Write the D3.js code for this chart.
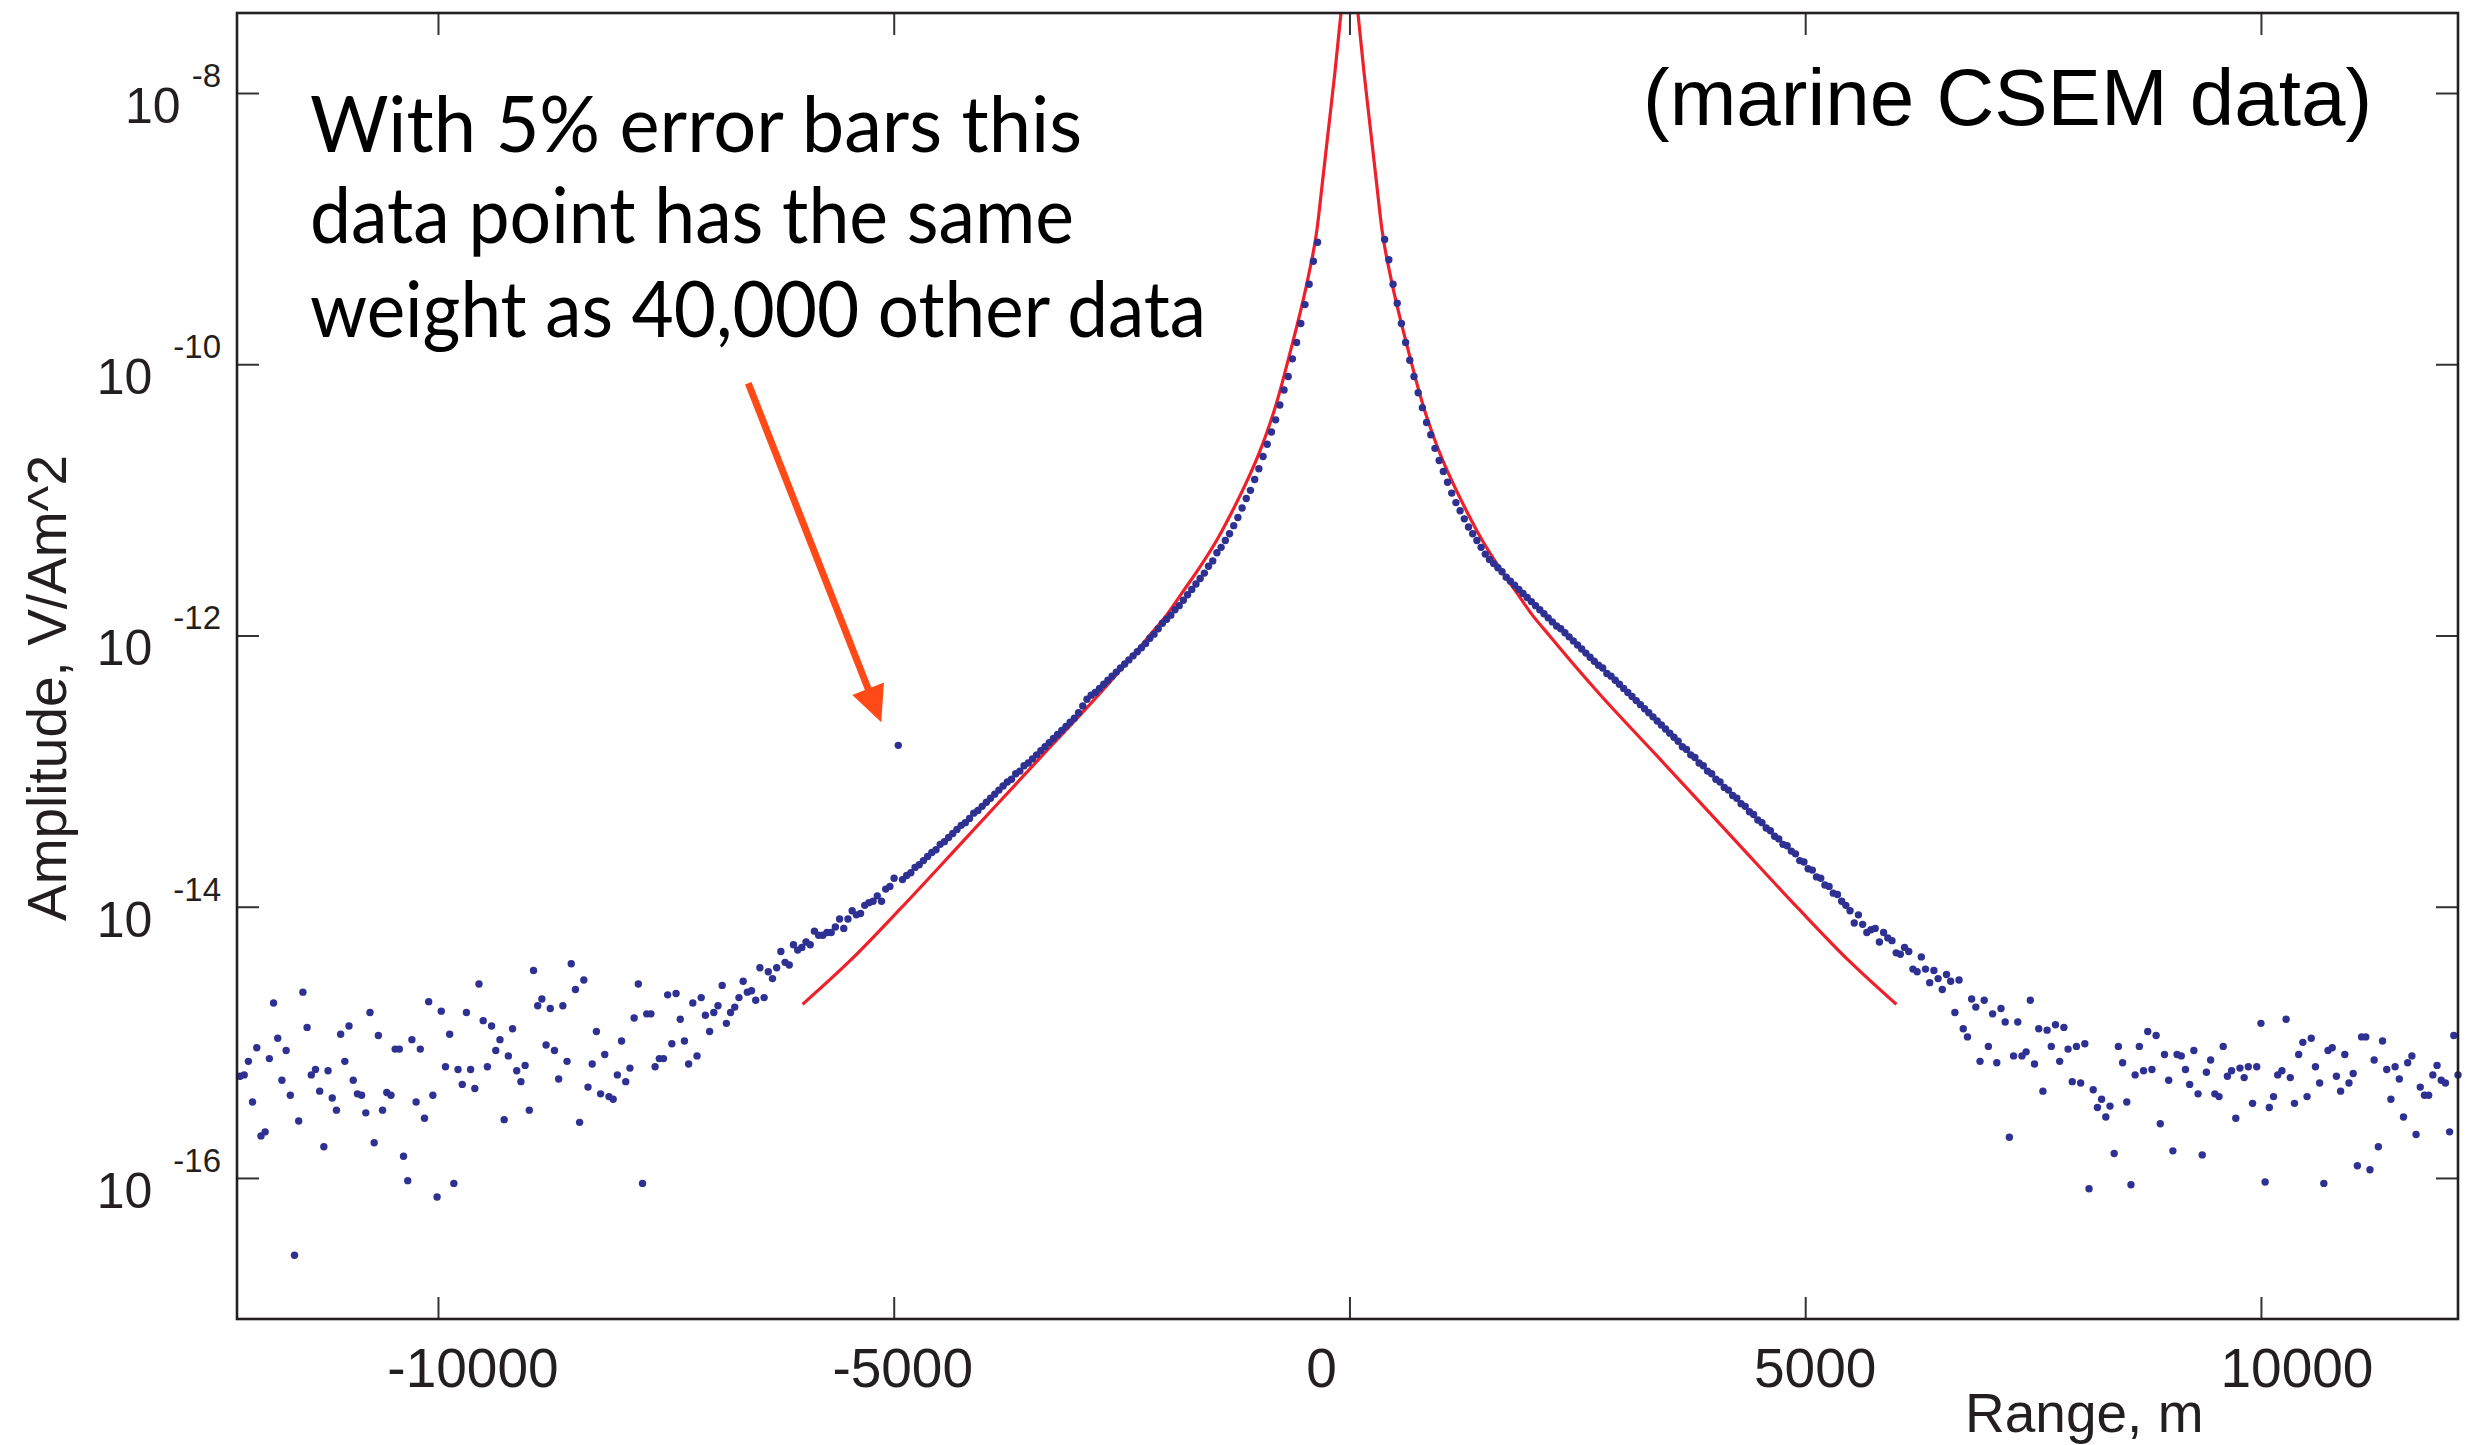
<!DOCTYPE html>
<html>
<head>
<meta charset="utf-8">
<script src="https://cdn.jsdelivr.net/npm/d3@7"></script>
<style>
  html, body { margin: 0; padding: 0; background: #ffffff; }
  svg { display: block; }
</style>
</head>
<body>
<svg id="chart" width="2476" height="1445"></svg>
<script>
// Inline receiver amplitudes on a regular 46 m range grid, stored as log10(V/Am^2).
const rangeStep = 46;
const westStartRange = -12172;   // first sample west of the source
const eastStartRange = 386;      // first sample east of the source

const westExponents = [
  -15.25,-15.24,-15.14,-15.44,-15.04,-15.69,-15.66,-15.12,-14.71,-14.97,
  -15.28,-15.06,-15.39,-16.57,-15.58,-14.63,-14.89,-15.24,-15.20,-15.36,
  -15.77,-15.21,-15.41,-15.50,-14.94,-15.14,-14.88,-15.28,-15.38,-15.39,
  -15.52,-14.78,-15.74,-14.95,-15.50,-15.37,-15.39,-15.05,-15.05,-15.84,
  -16.02,-14.98,-15.44,-15.05,-15.56,-14.70,-15.39,-16.14,-14.77,-15.18,
  -14.94,-16.04,-15.20,-15.31,-14.78,-15.20,-15.34,-14.57,-14.84,-15.18,
  -14.88,-15.06,-14.98,-15.57,-15.10,-14.90,-15.21,-15.29,-15.17,-15.50,
  -14.47,-14.73,-14.68,-15.02,-14.75,-15.06,-15.27,-14.73,-15.14,-14.42,
  -14.61,-15.59,-14.54,-15.33,-15.16,-14.92,-15.38,-15.09,-15.40,-15.42,
  -15.24,-14.99,-15.29,-15.19,-14.82,-14.57,-16.04,-14.79,-14.79,-15.18,
  -15.12,-15.12,-14.65,-15.01,-14.64,-14.83,-14.99,-15.16,-14.71,-15.10,
  -14.67,-14.80,-14.92,-14.78,-14.73,-14.58,-14.86,-14.78,-14.74,-14.67,
  -14.55,-14.63,-14.62,-14.69,-14.45,-14.67,-14.48,-14.53,-14.45,-14.33,
  -14.41,-14.43,-14.28,-14.32,-14.30,-14.26,-14.28,-14.18,-14.21,-14.21,
  -14.19,-14.19,-14.15,-14.09,-14.16,-14.09,-14.03,-14.06,-14.05,-13.99,
  -13.97,-13.96,-13.92,-13.96,-13.87,-13.85,-13.79,-12.81,-13.80,-13.77,
  -13.75,-13.71,-13.69,-13.66,-13.63,-13.60,-13.58,-13.54,-13.52,-13.49,
  -13.46,-13.43,-13.40,-13.38,-13.35,-13.31,-13.29,-13.26,-13.23,-13.20,
  -13.17,-13.14,-13.11,-13.08,-13.06,-13.02,-13.00,-12.96,-12.94,-12.91,
  -12.88,-12.85,-12.82,-12.79,-12.76,-12.73,-12.70,-12.67,-12.64,-12.61,
  -12.57,-12.52,-12.47,-12.44,-12.42,-12.39,-12.36,-12.33,-12.30,-12.27,
  -12.24,-12.21,-12.18,-12.15,-12.12,-12.09,-12.06,-12.02,-11.99,-11.95,
  -11.91,-11.88,-11.85,-11.81,-11.78,-11.74,-11.70,-11.66,-11.62,-11.58,
  -11.54,-11.49,-11.45,-11.39,-11.35,-11.30,-11.25,-11.19,-11.13,-11.06,
  -10.99,-10.93,-10.85,-10.77,-10.68,-10.59,-10.50,-10.41,-10.30,-10.19,
  -10.09,-9.96,-9.84,-9.70,-9.56,-9.41,-9.24,-9.10
];

const eastExponents = [
  -9.08,-9.23,-9.41,-9.55,-9.70,-9.84,-9.97,-10.09,-10.21,-10.32,
  -10.43,-10.52,-10.62,-10.71,-10.79,-10.87,-10.95,-11.02,-11.08,-11.14,
  -11.20,-11.25,-11.30,-11.35,-11.40,-11.44,-11.47,-11.50,
  -11.53,-11.57,-11.60,-11.63,-11.66,-11.69,-11.72,-11.75,-11.78,-11.81,
  -11.84,-11.87,-11.90,-11.93,-11.95,-11.98,-12.01,-12.04,-12.07,-12.10,
  -12.13,-12.16,-12.19,-12.22,-12.24,-12.28,-12.30,-12.33,-12.36,-12.39,
  -12.42,-12.45,-12.48,-12.51,-12.54,-12.57,-12.60,-12.63,-12.66,-12.69,
  -12.72,-12.75,-12.78,-12.82,-12.84,-12.88,-12.90,-12.94,-12.96,-13.00,
  -13.02,-13.06,-13.08,-13.12,-13.14,-13.18,-13.20,-13.24,-13.26,-13.30,
  -13.32,-13.36,-13.38,-13.42,-13.44,-13.48,-13.50,-13.54,-13.55,-13.59,
  -13.61,-13.66,-13.67,-13.72,-13.73,-13.78,-13.79,-13.84,-13.85,-13.90,
  -13.91,-13.96,-13.99,
  -14.03,-14.12,-14.06,-14.13,-14.19,-14.17,-14.16,-14.26,-14.19,-14.23,
  -14.25,-14.34,-14.35,-14.30,-14.33,-14.46,-14.48,-14.37,-14.46,-14.56,
  -14.47,-14.53,-14.61,-14.50,-14.55,-14.78,-14.54,-14.90,-14.96,-14.68,
  -14.74,-15.14,-14.69,-15.03,-14.79,-15.15,-14.75,-14.85,-15.70,-15.10,
  -14.85,-15.10,-15.07,-14.69,-15.16,-14.90,-15.36,-14.91,-15.03,-14.87,
  -15.14,-14.89,-15.05,-15.29,-15.03,-15.30,-15.01,-16.08,-15.35,-15.48,
  -15.42,-15.55,-15.47,-15.82,-15.03,-15.15,-15.44,-16.05,-15.24,-15.03,
  -15.21,-14.92,-15.20,-14.95,-15.60,-15.09,-15.28,-15.80,-15.09,-15.10,
  -15.20,-15.31,-15.06,-15.38,-15.83,-15.22,-15.13,-15.38,-15.40,-15.03,
  -15.25,-15.21,-15.56,-15.19,-15.26,-15.18,-15.45,-15.18,-14.86,-16.03,
  -15.48,-15.40,-15.24,-15.21,-14.83,-15.26,-15.45,-15.09,-15.00,-15.40,
  -14.97,-15.18,-15.30,-16.04,-15.06,-15.04,-15.25,-15.36,-15.09,-15.30,
  -15.23,-15.91,-14.96,-14.96,-15.94,-15.13,-15.77,-14.99,-15.20,-15.42,
  -15.18,-15.27,-15.55,-15.15,-15.10,-15.68,-15.33,-15.39,-15.39,-15.24,
  -15.17,-15.28,-15.30,-15.66,-14.95,-15.24
];

// Forward-model response of the 1D model, by source-receiver offset (symmetric about the source).
const modelOffsets   = [60, 99, 160, 236, 300, 355, 450, 548, 650, 735, 820, 910, 1000, 1096,
                        1283, 1458, 1645, 1831, 2007, 2193, 2379, 2741, 3377, 4243, 4934, 5482, 6000];
const modelExponents = [-7.20, -7.45, -7.85, -8.30, -8.68, -9.00, -9.35, -9.64, -9.91, -10.13,
                        -10.33, -10.51, -10.67, -10.82, -11.08, -11.30, -11.50, -11.68, -11.85,
                        -12.00, -12.15, -12.43, -12.89, -13.52, -14.02, -14.40, -14.72];

const rangeTicks = [-10000, -5000, 0, 5000, 10000];
const amplitudeTickExponents = [-8, -10, -12, -14, -16];
const flaggedIndex = 157;   // the west sample singled out by the note
const noteLines = ["With 5% error bars this", "data point has the same", "weight as 40,000 other data"];

// ---- layout ----
const frame = { left: 237, right: 2458, top: 13, bottom: 1319 };
const axisFont = "'Liberation Sans', Arial, Helvetica, sans-serif";
const dotColor = "#2e3192";
const modelColor = "#f0202a";
const arrowColor = "#ff4a17";
const ink = "#231f20";

const svg = d3.select("#chart");

const x = d3.scaleLinear().domain([-12205, 12162]).range([frame.left, frame.right]);
const y = d3.scaleLog().domain([Math.pow(10, -17.04), Math.pow(10, -7.41)]).range([frame.bottom, frame.top]);

const samples = [];
westExponents.forEach((e, i) => samples.push({ range: westStartRange + i * rangeStep, amp: Math.pow(10, e) }));
eastExponents.forEach((e, i) => samples.push({ range: eastStartRange + i * rangeStep, amp: Math.pow(10, e) }));

svg.append("defs").append("clipPath").attr("id", "plot-clip")
  .append("rect")
  .attr("x", frame.left).attr("y", frame.top)
  .attr("width", frame.right - frame.left).attr("height", frame.bottom - frame.top);

// ---- model curves ----
const modelEast = modelOffsets.map((r, i) => ({ range: r, amp: Math.pow(10, modelExponents[i]) }));
const modelWest = modelEast.map(d => ({ range: -d.range, amp: d.amp })).reverse();
const line = d3.line().x(d => x(d.range)).y(d => y(d.amp)).curve(d3.curveMonotoneX);
const modelGroup = svg.append("g").attr("clip-path", "url(#plot-clip)");
[modelWest, modelEast].forEach(seg => {
  modelGroup.append("path").datum(seg)
    .attr("d", line)
    .attr("fill", "none")
    .attr("stroke", modelColor)
    .attr("stroke-width", 3.2);
});

// ---- data points ----
svg.append("g").selectAll("circle").data(samples).join("circle")
  .attr("cx", d => x(d.range))
  .attr("cy", d => y(d.amp))
  .attr("r", 3.7)
  .attr("fill", dotColor);

// ---- axes (ticks point inward on all four sides) ----
const tickLen = 22;
const bottomAxis = d3.axisBottom(x).tickValues(rangeTicks).tickSize(-tickLen).tickFormat("");
const topAxis = d3.axisTop(x).tickValues(rangeTicks).tickSize(-tickLen).tickFormat("");
const leftAxis = d3.axisLeft(y).tickValues(amplitudeTickExponents.map(e => Math.pow(10, e))).tickSize(-tickLen).tickFormat("");
const rightAxis = d3.axisRight(y).tickValues(amplitudeTickExponents.map(e => Math.pow(10, e))).tickSize(-tickLen).tickFormat("");

function styleAxis(g) {
  g.select(".domain").remove();
  g.selectAll(".tick line").attr("stroke", "#333").attr("stroke-width", 2);
}
svg.append("g").attr("transform", `translate(0,${frame.bottom})`).call(bottomAxis).call(styleAxis);
svg.append("g").attr("transform", `translate(0,${frame.top})`).call(topAxis).call(styleAxis);
svg.append("g").attr("transform", `translate(${frame.left},0)`).call(leftAxis).call(styleAxis);
svg.append("g").attr("transform", `translate(${frame.right},0)`).call(rightAxis).call(styleAxis);

svg.append("rect")
  .attr("x", frame.left).attr("y", frame.top)
  .attr("width", frame.right - frame.left).attr("height", frame.bottom - frame.top)
  .attr("fill", "none").attr("stroke", ink).attr("stroke-width", 2.6);

// range tick labels
const rangeLabelNudge = { "-10000": 35, "-5000": 9, "0": -28, "5000": 10, "10000": 36 };
svg.append("g").selectAll("text").data(rangeTicks).join("text")
  .attr("x", d => x(d) + rangeLabelNudge[String(d)])
  .attr("y", 1387)
  .attr("text-anchor", "middle")
  .attr("font-family", axisFont)
  .attr("font-size", 55)
  .attr("fill", ink)
  .text(d => String(d));

// amplitude tick labels as powers of ten
const powLabels = svg.append("g").selectAll("text").data(amplitudeTickExponents).join("text")
  .attr("x", 221)
  .attr("y", d => y(Math.pow(10, d)) + 30)
  .attr("text-anchor", "end")
  .attr("font-family", axisFont)
  .attr("font-size", 50)
  .attr("fill", ink);
powLabels.text("10");
powLabels.append("tspan")
  .attr("dx", d => (d > -10 ? 11 : 21))
  .attr("dy", -36)
  .attr("font-size", 33)
  .text(d => String(d));

// axis titles
svg.append("text")
  .attr("x", 1965).attr("y", 1432)
  .attr("font-family", axisFont).attr("font-size", 55).attr("fill", ink)
  .text("Range, m");
svg.append("text")
  .attr("transform", "translate(66,688) rotate(-90)")
  .attr("text-anchor", "middle")
  .attr("font-family", axisFont).attr("font-size", 55).attr("fill", ink)
  .text("Amplitude, V/Am^2");

// data set tag
svg.append("text")
  .attr("x", 1643).attr("y", 125)
  .attr("font-family", axisFont).attr("font-size", 80).attr("fill", "#000")
  .text("(marine CSEM data)");

// ---- note with arrow to the flagged sample ----
const noteWidths = [772, 764, 896];
svg.append("g").selectAll("text").data(noteLines).join("text")
  .attr("x", 310)
  .attr("y", (d, i) => [152, 243, 337][i])
  .attr("font-family", "Lato, 'Open Sans', sans-serif")
  .attr("font-size", 78)
  .attr("fill", "#000")
  .attr("textLength", (d, i) => noteWidths[i])
  .attr("lengthAdjust", "spacingAndGlyphs")
  .text(d => d);

const flagged = samples[flaggedIndex];
const fx = x(flagged.range), fy = y(flagged.amp);
const tip = [fx - 17, fy - 23];
const tail = [fx - 150, fy - 362];
const dx = tip[0] - tail[0], dy = tip[1] - tail[1];
const len = Math.hypot(dx, dy);
const ux = dx / len, uy = dy / len;
const headLen = 36, headHalf = 17;
const base = [tip[0] - ux * headLen, tip[1] - uy * headLen];
const arrow = svg.append("g");
arrow.append("line")
  .attr("x1", tail[0]).attr("y1", tail[1])
  .attr("x2", base[0] + ux * 4).attr("y2", base[1] + uy * 4)
  .attr("stroke", arrowColor).attr("stroke-width", 7);
arrow.append("path")
  .attr("d", d3.line()([
    tip,
    [base[0] - uy * headHalf, base[1] + ux * headHalf],
    [base[0] + uy * headHalf, base[1] - ux * headHalf]
  ]) + "Z")
  .attr("fill", arrowColor);
</script>
</body>
</html>
